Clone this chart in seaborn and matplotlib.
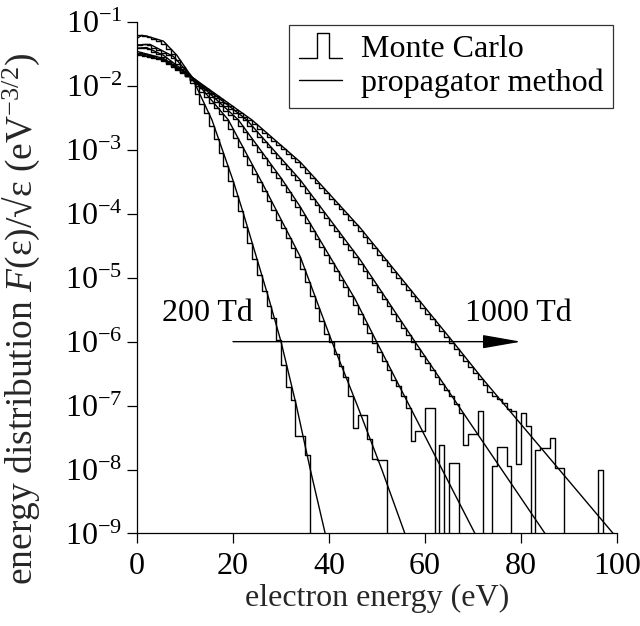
import numpy as np
import pandas as pd
import matplotlib
matplotlib.use("Agg")
import matplotlib.pyplot as plt
import seaborn as sns
from matplotlib.lines import Line2D
from matplotlib.legend_handler import HandlerBase
from matplotlib.patches import ArrowStyle

# ---------------- data (log10 of F(eps)/sqrt(eps) in eV^-3/2) ----------------
fields = ["200 Td", "400 Td", "600 Td", "800 Td", "1000 Td"]

# propagator method: (energy in eV, log10 value)
p200_x = [0, 1, 2, 5.5, 8.3, 11.4, 15.6, 20.1, 22.1, 27.35, 30, 33.2, 36.1, 39.2, 40]
p200_y = [-1.255, -1.21, -1.22, -1.30, -1.52, -1.86, -2.53, -3.50, -3.98, -5.30, -6.0, -7.0, -8.0, -9.0, -9.26]
p400_x = [0, 2.7, 7.6, 11.4, 19.0, 26.3, 34, 40.6, 45.9, 51, 55.8, 56.5]
p400_y = [-1.36, -1.35, -1.54, -1.86, -2.53, -3.55, -4.67, -6.0, -7.0, -8.0, -9.0, -9.15]
p600_x = [0, 2, 5.5, 11.4, 21.1, 30.1, 34, 45.4, 49.9, 70.4, 71]
p600_y = [-1.41, -1.40, -1.52, -1.86, -2.53, -3.45, -3.89, -5.33, -6.0, -9.0, -9.09]
p800_x = [0, 5.5, 11.4, 22.85, 34, 46.5, 57.9, 63.5, 85, 86]
p800_y = [-1.46, -1.57, -1.86, -2.53, -3.47, -4.72, -6.0, -6.62, -9.0, -9.11]
p1000_x = [0, 5.5, 11.4, 23.9, 34, 46.5, 65.8, 72.1, 99.2, 100]
p1000_y = [-1.50, -1.59, -1.86, -2.53, -3.19, -4.22, -6.0, -6.59, -9.0, -9.07]

# Monte Carlo: log10 of 1-eV bin values, bins start at 0 eV; None = empty bin
mc200 = [-1.21, -1.22, -1.24, -1.27, -1.29, -1.34, -1.42, -1.50, -1.60, -1.71,
         -1.82, -1.96, -2.12, -2.28, -2.43, -2.62, -2.83, -3.05, -3.26, -3.48,
         -3.72, -3.96, -4.21, -4.46, -4.71, -4.96, -5.21, -5.45, -5.63, -5.97,
         -6.36, -6.71, -6.91, -7.47, -7.47, -7.78]
mc400 = [-1.36, -1.35, -1.36, -1.40, -1.44, -1.48, -1.52, -1.57, -1.66, -1.74,
         -1.83, -1.91, -2.00, -2.09, -2.18, -2.27, -2.35, -2.44, -2.53, -2.67,
         -2.81, -2.95, -3.09, -3.23, -3.37, -3.51, -3.65, -3.80, -3.94, -4.09,
         -4.23, -4.38, -4.53, -4.67, -4.87, -5.07, -5.28, -5.48, -5.68, -5.88,
         -6.00, -6.20, -6.38, -6.55, -6.85, -7.35, -7.14, -7.14, -7.53, -7.84,
         -7.85, -7.85]
mc600 = [-1.41, -1.40, -1.43, -1.47, -1.50, -1.55, -1.61, -1.66, -1.72, -1.78,
         -1.84, -1.90, -1.97, -2.04, -2.11, -2.18, -2.25, -2.32, -2.39, -2.45,
         -2.52, -2.62, -2.72, -2.83, -2.93, -3.03, -3.13, -3.24, -3.34, -3.44,
         -3.55, -3.66, -3.78, -3.89, -4.02, -4.14, -4.27, -4.40, -4.52, -4.65,
         -4.77, -4.90, -5.03, -5.15, -5.28, -5.42, -5.57, -5.72, -5.87, -6.02,
         -6.16, -6.31, -6.45, -6.60, -6.70, -6.85, -7.04, -7.56, -7.40, -7.40,
         -7.04, -7.04, None, -7.61, None, -7.90, -7.90]
mc800 = [-1.48, -1.50, -1.52, -1.54, -1.56, -1.60, -1.64, -1.69, -1.74, -1.79,
         -1.84, -1.90, -1.95, -2.01, -2.07, -2.13, -2.19, -2.25, -2.31, -2.36,
         -2.42, -2.48, -2.54, -2.63, -2.71, -2.80, -2.88, -2.96, -3.05, -3.13,
         -3.22, -3.30, -3.39, -3.47, -3.57, -3.67, -3.77, -3.87, -3.97, -4.07,
         -4.17, -4.27, -4.37, -4.47, -4.57, -4.67, -4.78, -4.89, -5.00, -5.11,
         -5.23, -5.34, -5.45, -5.56, -5.67, -5.79, -5.90, -6.01, -6.12, -6.23,
         -6.34, -6.45, -6.56, -6.66, -6.75, -6.85, -6.98, -7.11, -7.61, -7.45,
         -7.45, -7.09, None, None, -7.95, -7.64, -7.64, -7.95]
mc1000 = [-1.52, -1.53, -1.55, -1.57, -1.58, -1.61, -1.66, -1.70, -1.75, -1.80,
          -1.84, -1.89, -1.95, -2.00, -2.05, -2.11, -2.16, -2.21, -2.27, -2.32,
          -2.38, -2.43, -2.48, -2.54, -2.60, -2.67, -2.73, -2.80, -2.86, -2.93,
          -2.99, -3.06, -3.13, -3.19, -3.27, -3.36, -3.44, -3.52, -3.60, -3.68,
          -3.77, -3.85, -3.93, -4.01, -4.10, -4.18, -4.27, -4.36, -4.45, -4.54,
          -4.64, -4.73, -4.82, -4.91, -5.00, -5.10, -5.19, -5.28, -5.37, -5.47,
          -5.56, -5.65, -5.74, -5.83, -5.93, -6.02, -6.11, -6.21, -6.30, -6.39,
          -6.49, -6.58, -6.68, -6.78, -6.85, -6.90, -6.96, -7.05, -7.09, -7.92,
          -7.11, -7.32, None, -7.69, -7.67, -7.67, -7.50, -7.97, -7.97, None,
          None, None, None, None, None, None, -8.00]

x_ticks = [0, 20, 40, 60, 80, 100]
y_exponents = [-1, -2, -3, -4, -5, -6, -7, -8, -9]
legend_labels = ["Monte Carlo", "propagator method"]
x_label = "electron energy (eV)"
y_label = r"energy distribution $F$(ε)/√ε (eV$^{\mathregular{-3/2}}$)"

# ---------------- style ----------------
sns.set_style("ticks")
plt.rcParams.update({
    "font.family": ["Liberation Serif", "DejaVu Serif"],
    "mathtext.fontset": "custom",
    "mathtext.rm": "Liberation Serif",
    "mathtext.it": "Liberation Serif:italic",
    "font.size": 23,
    "axes.linewidth": 0.9,
    "xtick.major.size": 7.5, "ytick.major.size": 7.5,
    "xtick.major.width": 0.9, "ytick.major.width": 0.9,
    "xtick.direction": "out", "ytick.direction": "out",
    "xtick.color": "black", "ytick.color": "black",
    "axes.edgecolor": "black", "text.color": "black",
})

fig = plt.figure(figsize=(6.4, 6.26), dpi=100)
ax = fig.add_axes([0.2141, 0.1478, 0.75, 0.8171])
ax.set_yscale("log")

FLOOR = 1e-12
LW = 1.0

def mc_frame(logs):
    edges = np.arange(len(logs) + 1)
    vals = [10.0 ** v if v is not None else FLOOR for v in logs] + [FLOOR]
    return pd.DataFrame({"energy": edges, "value": vals})

mc_all = [mc200, mc400, mc600, mc800, mc1000]
prop_all = [(p200_x, p200_y), (p400_x, p400_y), (p600_x, p600_y),
            (p800_x, p800_y), (p1000_x, p1000_y)]

for logs in mc_all:
    sns.lineplot(data=mc_frame(logs), x="energy", y="value", ax=ax,
                 drawstyle="steps-post", color="black", lw=LW,
                 estimator=None, sort=False, legend=False)

for px, py in prop_all:
    df = pd.DataFrame({"energy": px, "value": [10.0 ** v for v in py]})
    sns.lineplot(data=df, x="energy", y="value", ax=ax, color="black", lw=LW,
                 estimator=None, sort=False, legend=False)

ax.set_xlim(0, 100)
ax.set_ylim(1e-9, 1e-1)
ax.set_xticks(x_ticks)
ax.set_xticklabels([str(t) for t in x_ticks])
ax.set_yticks([10.0 ** e for e in y_exponents])
ax.set_yticklabels([r"10$^{\mathregular{%d}}$" % e for e in y_exponents])
ax.minorticks_off()
ax.tick_params(axis="y", pad=3)
ax.tick_params(axis="x", pad=6)
sns.despine(ax=ax)

ax.set_xlabel(x_label, labelpad=2)
ax.set_ylabel(y_label, fontsize=27)
ax.yaxis.set_label_coords(-0.198, 0.42)

# annotations
ax.text(5.2, 10 ** -5.68, fields[0], ha="left", va="baseline")
ax.text(68.3, 10 ** -5.68, fields[-1], ha="left", va="baseline")
ax.annotate("", xy=(80, 1e-6), xytext=(20, 1e-6),
            arrowprops=dict(arrowstyle=ArrowStyle("-|>", head_length=2.4, head_width=0.42),
                            mutation_scale=10, color="black", lw=LW,
                            shrinkA=0, shrinkB=0))

# legend
class StepHandler(HandlerBase):
    def create_artists(self, legend, orig_handle, xdescent, ydescent,
                       width, height, fontsize, trans):
        w, h = width, height
        xs = np.array([0, 0.42, 0.42, 0.7, 0.7, 1.0]) * w - xdescent
        ys = np.array([-0.05, -0.05, 1.05, 1.05, -0.05, -0.05]) * h - ydescent
        ln = Line2D(xs, ys, color="black", lw=LW, transform=trans)
        return [ln]

mc_handle = Line2D([], [], color="black", lw=LW)
pm_handle = Line2D([], [], color="black", lw=LW)
leg = ax.legend([mc_handle, pm_handle], legend_labels,
                handler_map={mc_handle: StepHandler()},
                loc="upper right", bbox_to_anchor=(613 / 640, 1 - 25 / 626),
                bbox_transform=fig.transFigure, borderaxespad=0,
                frameon=True, fancybox=False, edgecolor="black",
                handlelength=1.35, handletextpad=0.6, borderpad=0.3,
                labelspacing=0.15, fontsize=23)
leg.get_frame().set_linewidth(0.9)

fig.savefig("out.png", dpi=100)
